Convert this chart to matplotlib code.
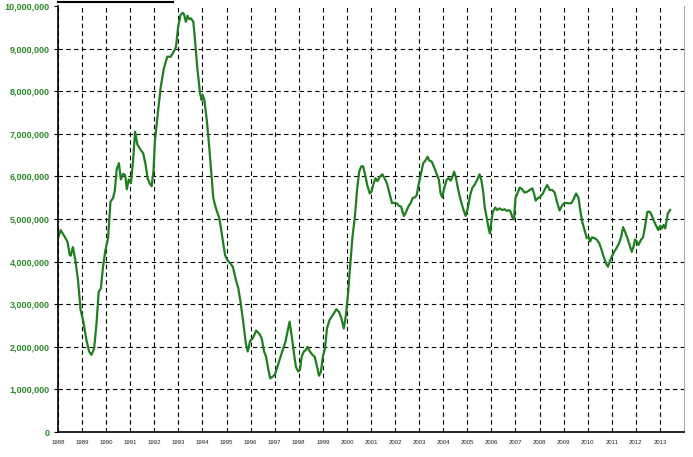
import matplotlib
matplotlib.use("Agg")
import matplotlib.pyplot as plt
from matplotlib.lines import Line2D
from matplotlib.ticker import FuncFormatter
import numpy as np

# dates as decimal years, values in millions
dates = [
    1988.00, 1988.11, 1988.28, 1988.39, 1988.49, 1988.53, 1988.62, 1988.72, 1988.83, 1988.94,
    1989.04, 1989.18, 1989.29, 1989.39, 1989.50, 1989.60, 1989.69, 1989.78, 1989.87, 1989.97,
    1990.08, 1990.18, 1990.29, 1990.36, 1990.44, 1990.53, 1990.61, 1990.71, 1990.79, 1990.86,
    1990.94, 1991.03, 1991.12, 1991.20, 1991.30, 1991.44, 1991.54, 1991.64, 1991.72, 1991.82,
    1991.89, 1991.97, 1992.02, 1992.16, 1992.27, 1992.40, 1992.54, 1992.68, 1992.81, 1992.90,
    1992.99, 1993.09, 1993.18, 1993.23, 1993.31, 1993.38, 1993.45, 1993.52, 1993.62, 1993.69,
    1993.78, 1993.90, 1993.97, 1994.01, 1994.08, 1994.18, 1994.28, 1994.38, 1994.45, 1994.56,
    1994.70, 1994.80, 1994.94, 1995.03, 1995.15, 1995.26, 1995.39, 1995.49, 1995.59, 1995.70,
    1995.80, 1995.88, 1995.98, 1996.09, 1996.23, 1996.37, 1996.46, 1996.56, 1996.64, 1996.74,
    1996.81, 1996.92, 1997.01, 1997.11, 1997.22, 1997.33, 1997.43, 1997.52, 1997.62, 1997.71,
    1997.80, 1997.88, 1997.98, 1998.05, 1998.12, 1998.21, 1998.29, 1998.36, 1998.46, 1998.57,
    1998.66, 1998.76, 1998.84, 1998.92, 1999.00, 1999.09, 1999.17, 1999.28, 1999.42, 1999.56,
    1999.67, 1999.77, 1999.87, 1999.95, 2000.05, 2000.12, 2000.23, 2000.33, 2000.42, 2000.51,
    2000.59, 2000.67, 2000.76, 2000.84, 2000.95, 2001.02, 2001.09, 2001.19, 2001.27, 2001.37,
    2001.47, 2001.55, 2001.66, 2001.77, 2001.87, 2001.96, 2002.07, 2002.16, 2002.25, 2002.29,
    2002.37, 2002.46, 2002.55, 2002.65, 2002.73, 2002.83, 2002.90, 2002.96, 2003.06, 2003.17,
    2003.27, 2003.35, 2003.42, 2003.52, 2003.61, 2003.72, 2003.82, 2003.89, 2003.96, 2004.04,
    2004.14, 2004.22, 2004.31, 2004.41, 2004.45, 2004.52, 2004.61, 2004.72, 2004.82, 2004.93,
    2005.02, 2005.12, 2005.20, 2005.30, 2005.41, 2005.51, 2005.58, 2005.65, 2005.73, 2005.81,
    2005.90, 2005.94, 2006.00, 2006.06, 2006.16, 2006.24, 2006.34, 2006.45, 2006.55, 2006.64,
    2006.73, 2006.80, 2006.87, 2006.94, 2007.00, 2007.08, 2007.18, 2007.27, 2007.38, 2007.49,
    2007.59, 2007.70, 2007.77, 2007.84, 2007.93, 2008.03, 2008.14, 2008.24, 2008.32, 2008.42,
    2008.53, 2008.63, 2008.72, 2008.83, 2008.94, 2009.04, 2009.18, 2009.32, 2009.41, 2009.52,
    2009.62, 2009.69, 2009.77, 2009.87, 2009.96, 2010.04, 2010.10, 2010.18, 2010.28, 2010.37,
    2010.48, 2010.58, 2010.66, 2010.76, 2010.84, 2010.92, 2011.00, 2011.10, 2011.19, 2011.30,
    2011.39, 2011.47, 2011.55, 2011.65, 2011.74, 2011.83, 2011.90, 2011.97, 2012.04, 2012.11,
    2012.21, 2012.30, 2012.38, 2012.48, 2012.58, 2012.66, 2012.76, 2012.86, 2012.93, 2013.01,
    2013.08, 2013.15, 2013.22, 2013.27, 2013.33, 2013.42,
]

values = [
    4.55, 4.74, 4.58, 4.47, 4.15, 4.14, 4.34, 4.04, 3.57, 2.86,
    2.63, 2.16, 1.89, 1.81, 1.96, 2.55, 3.29, 3.37, 3.88, 4.27,
    4.55, 5.41, 5.49, 5.68, 6.17, 6.31, 5.93, 6.06, 6.03, 5.70,
    5.93, 5.84, 6.38, 7.05, 6.74, 6.62, 6.54, 6.27, 5.96, 5.82,
    5.77, 6.15, 6.80, 7.56, 8.11, 8.54, 8.81, 8.81, 8.93, 9.04,
    9.51, 9.79, 9.84, 9.81, 9.63, 9.77, 9.69, 9.71, 9.63, 9.20,
    8.58, 7.95, 7.79, 7.91, 7.79, 7.32, 6.70, 5.99, 5.49, 5.25,
    5.02, 4.66, 4.15, 4.04, 3.96, 3.88, 3.57, 3.37, 3.02, 2.55,
    2.08, 1.89, 2.14, 2.20, 2.38, 2.30, 2.20, 1.89, 1.77, 1.46,
    1.26, 1.30, 1.35, 1.53, 1.73, 1.92, 2.08, 2.32, 2.59, 2.24,
    1.85, 1.53, 1.42, 1.46, 1.77, 1.89, 1.92, 2.00, 1.89, 1.81,
    1.77, 1.53, 1.32, 1.42, 1.77, 1.96, 2.43, 2.63, 2.75, 2.88,
    2.82, 2.67, 2.43, 2.71, 3.26, 3.80, 4.58, 5.05, 5.68, 6.11,
    6.23, 6.24, 6.03, 5.80, 5.60, 5.64, 5.80, 5.96, 5.89, 5.99,
    6.05, 5.97, 5.84, 5.60, 5.37, 5.38, 5.37, 5.31, 5.29, 5.21,
    5.07, 5.17, 5.29, 5.38, 5.49, 5.51, 5.56, 5.76, 6.03, 6.31,
    6.38, 6.46, 6.37, 6.35, 6.23, 6.07, 5.92, 5.60, 5.51, 5.72,
    5.92, 5.96, 5.90, 6.03, 6.11, 5.99, 5.72, 5.45, 5.25, 5.07,
    5.25, 5.56, 5.72, 5.80, 5.92, 6.05, 5.92, 5.68, 5.25, 5.02,
    4.74, 4.66, 4.94, 5.17, 5.27, 5.21, 5.25, 5.21, 5.23, 5.19,
    5.21, 5.17, 5.04, 4.99, 5.49, 5.60, 5.74, 5.70, 5.62, 5.64,
    5.68, 5.72, 5.60, 5.43, 5.49, 5.52, 5.60, 5.72, 5.80, 5.68,
    5.68, 5.62, 5.41, 5.20, 5.32, 5.38, 5.37, 5.37, 5.46, 5.60,
    5.49, 5.21, 4.94, 4.74, 4.55, 4.58, 4.47, 4.57, 4.55, 4.52,
    4.43, 4.27, 4.12, 3.96, 3.88, 4.00, 4.12, 4.23, 4.31, 4.43,
    4.58, 4.81, 4.70, 4.55, 4.39, 4.23, 4.35, 4.52, 4.47, 4.39,
    4.51, 4.57, 4.82, 5.17, 5.17, 5.09, 4.94, 4.82, 4.74, 4.84,
    4.78, 4.86, 4.78, 4.94, 5.13, 5.21,
]

year_ticks = list(range(1988, 2014))
y_ticks = [0, 1000000, 2000000, 3000000, 4000000, 5000000,
           6000000, 7000000, 8000000, 9000000, 10000000]

fig = plt.figure(figsize=(6.93, 4.57), dpi=100)
ax = fig.add_axes([58/693, 25/457, 626/693, 426/457])

ax.plot(dates, np.array(values) * 1e6, color='#1f7f1f', linewidth=1.6)

ax.set_xlim(1988, 2014)
ax.set_ylim(0, 10000000)
ax.set_xticks(year_ticks)
ax.set_xticklabels([str(y) for y in year_ticks])
ax.set_yticks(y_ticks)
ax.yaxis.set_major_formatter(FuncFormatter(lambda v, p: '{:,}'.format(int(v))))

ax.grid(True, color='black', linestyle=(0, (4, 3)), linewidth=0.8)
# no dashed line along the very top
ax.yaxis.get_gridlines()[-1].set_visible(False)
ax.tick_params(axis='y', length=3, width=0.8, pad=3, labelsize=6.5,
               labelcolor='#2a8a2a')
ax.tick_params(axis='x', length=0, pad=5.5, labelsize=4.3, labelcolor='#222222')
for lbl in ax.get_yticklabels():
    lbl.set_fontweight('bold')
    lbl.set_family('Liberation Sans')
for lbl in ax.get_xticklabels():
    lbl.set_family('Liberation Sans')

ax.spines['top'].set_visible(False)
ax.spines['right'].set_color('#aaaaaa')
ax.spines['left'].set_linewidth(1.2)
ax.spines['bottom'].set_linewidth(1.2)

# bit of a header rule left at the top edge
fig.add_artist(Line2D([58/693, 173/693], [455/457, 455/457], color='black', linewidth=1.5))

fig.savefig('out.png', dpi=100)
